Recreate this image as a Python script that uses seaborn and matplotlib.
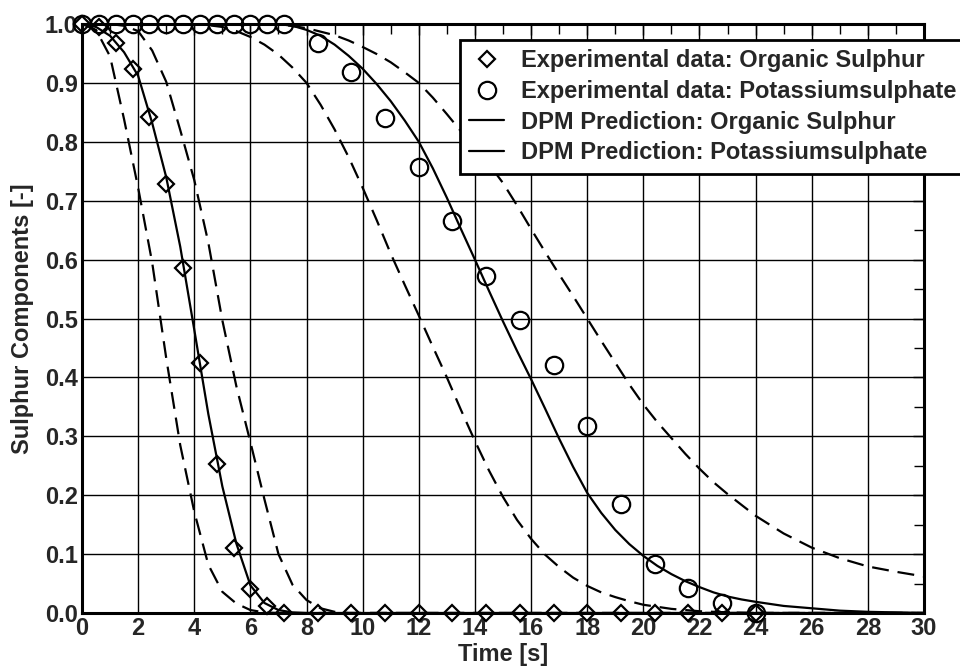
import matplotlib
matplotlib.use("Agg")
import matplotlib.pyplot as plt
from matplotlib.lines import Line2D
from matplotlib.ticker import MultipleLocator
import seaborn as sns
import pandas as pd

# ---- measured data -------------------------------------------------------
time_exp = [0.0, 0.6, 1.2, 1.8, 2.4, 3.0, 3.6, 4.2, 4.8, 5.4, 6.0, 6.6, 7.2,
            8.4, 9.6, 10.8, 12.0, 13.2, 14.4, 15.6, 16.8, 18.0, 19.2, 20.4,
            21.6, 22.8, 24.0]
organic_exp = [1.0, 0.995, 0.968, 0.924, 0.842, 0.728, 0.586, 0.424, 0.253,
               0.110, 0.041, 0.012, 0.0,
               0.0, 0.0, 0.0, 0.0, 0.0, 0.0, 0.0, 0.0, 0.0, 0.0, 0.0, 0.0,
               0.0, 0.0]
potassium_exp = [1.0, 1.0, 1.0, 1.0, 1.0, 1.0, 1.0, 1.0, 1.0, 1.0, 1.0, 1.0,
                 1.0,
                 0.967, 0.918, 0.841, 0.758, 0.665, 0.572, 0.497, 0.421,
                 0.318, 0.185, 0.084, 0.042, 0.017, 0.0]

# ---- DPM predictions: organic sulphur -----------------------------------
t_org = [0.0, 0.5, 1.0, 1.5, 2.0, 2.5, 3.0, 3.5, 4.0, 4.5, 5.0, 5.5, 6.0,
         6.5, 7.0, 7.5, 8.0, 30.0]
org_pred = [1.0, 0.995, 0.98, 0.952, 0.912, 0.832, 0.74, 0.622, 0.481,
            0.338, 0.215, 0.118, 0.047, 0.017, 0.005, 0.001, 0.0, 0.0]

t_org_fast = [0.0, 0.5, 1.0, 1.5, 2.0, 2.5, 3.0, 3.5, 4.0, 4.5, 5.0, 5.5,
              6.0, 6.5, 7.0, 30.0]
org_fast = [1.0, 0.99, 0.945, 0.838, 0.722, 0.595, 0.433, 0.285, 0.172,
            0.082, 0.036, 0.016, 0.005, 0.001, 0.0, 0.0]

t_org_slow = [0.0, 1.0, 1.5, 2.0, 2.5, 3.0, 3.5, 4.0, 4.5, 5.0, 5.5, 6.0,
              6.5, 7.0, 7.5, 8.0, 8.5, 9.0, 9.5, 30.0]
org_slow = [1.0, 1.0, 0.997, 0.988, 0.955, 0.902, 0.82, 0.735, 0.629, 0.497,
            0.385, 0.29, 0.193, 0.1, 0.048, 0.022, 0.008, 0.002, 0.0, 0.0]

# ---- DPM predictions: potassium sulphate --------------------------------
t_pot = [0.0, 7.0, 7.5, 8.0, 8.5, 9.0, 9.5, 10.0, 10.5, 11.0, 11.5, 12.0,
         12.5, 13.0, 13.5, 14.0, 14.5, 15.0, 15.5, 16.0, 16.5, 17.0, 17.5,
         18.0, 18.5, 19.0, 19.5, 20.0, 20.5, 21.0, 21.5, 22.0, 22.5, 23.0,
         23.5, 24.0, 25.0, 26.0, 27.0, 28.0, 29.0, 30.0]
pot_pred = [1.0, 1.0, 0.997, 0.99, 0.98, 0.965, 0.946, 0.924, 0.898, 0.869,
            0.836, 0.80, 0.755, 0.705, 0.652, 0.600, 0.547, 0.495, 0.445,
            0.397, 0.347, 0.296, 0.248, 0.204, 0.170, 0.141, 0.117, 0.097,
            0.080, 0.066, 0.054, 0.044, 0.035, 0.028, 0.023, 0.019, 0.012,
            0.008, 0.004, 0.002, 0.001, 0.0]

t_pot_fast = [0.0, 4.0, 4.5, 5.0, 5.5, 6.0, 6.5, 7.0, 7.5, 8.0, 8.5, 9.0,
              9.5, 10.0, 10.5, 11.0, 11.5, 12.0, 12.5, 13.0, 13.5, 14.0,
              14.5, 15.0, 15.5, 16.0, 16.5, 17.0, 17.5, 18.0, 18.5, 19.0,
              19.5, 20.0, 21.0, 22.0, 23.0, 24.0, 30.0]
pot_fast = [1.0, 1.0, 0.998, 0.995, 0.988, 0.978, 0.965, 0.948, 0.926, 0.90,
            0.863, 0.821, 0.774, 0.722, 0.667, 0.61, 0.557, 0.505, 0.452,
            0.40, 0.345, 0.292, 0.242, 0.197, 0.158, 0.126, 0.099, 0.078,
            0.06, 0.046, 0.035, 0.027, 0.02, 0.014, 0.007, 0.003, 0.001,
            0.0, 0.0]

t_pot_slow = [0.0, 7.0, 8.0, 9.0, 9.5, 10.0, 10.5, 11.0, 11.5, 12.0, 12.5,
              13.0, 13.5, 14.0, 14.5, 15.0, 15.5, 16.0, 16.5, 17.0, 17.5,
              18.0, 18.5, 19.0, 19.5, 20.0, 20.5, 21.0, 21.5, 22.0, 22.5,
              23.0, 24.0, 25.0, 26.0, 27.0, 28.0, 29.0, 30.0]
pot_slow = [1.0, 1.0, 0.993, 0.981, 0.972, 0.961, 0.949, 0.935, 0.918, 0.90,
            0.875, 0.847, 0.818, 0.79, 0.762, 0.73, 0.692, 0.652, 0.613,
            0.575, 0.538, 0.50, 0.462, 0.425, 0.388, 0.354, 0.324, 0.297,
            0.27, 0.245, 0.222, 0.202, 0.165, 0.135, 0.111, 0.093, 0.079,
            0.07, 0.062]

x_ticks = list(range(0, 31, 2))
y_ticks = [0.0, 0.1, 0.2, 0.3, 0.4, 0.5, 0.6, 0.7, 0.8, 0.9, 1.0]

legend_labels = ["Experimental data: Organic Sulphur",
                 "Experimental data: Potassiumsulphate",
                 "DPM Prediction: Organic Sulphur",
                 "DPM Prediction: Potassiumsulphate"]

# ---- styling -------------------------------------------------------------
sns.set_theme(style="white")
plt.rcParams["font.family"] = ["Liberation Sans", "DejaVu Sans"]
plt.rcParams["font.weight"] = "bold"
plt.rcParams["axes.labelweight"] = "bold"
plt.rcParams["lines.scale_dashes"] = True

FS = 17
LW = 1.6
DASH_STYLE = (0, (7.6, 4.0))

fig = plt.figure(figsize=(9.6, 6.67), dpi=100)
ax = fig.add_axes([82 / 960, 54 / 667, (924 - 82) / 960, (613 - 24) / 667])


def curve(t, y, dashed=False):
    df = pd.DataFrame({"t": t, "y": y})
    sns.lineplot(data=df, x="t", y="y", color="black", linewidth=LW,
                 estimator=None, sort=False, legend=False, ax=ax, zorder=3)
    line = ax.lines[-1]
    line.set_solid_capstyle("butt")
    if dashed:
        line.set_linestyle(DASH_STYLE)
        line.set_dash_capstyle("butt")


curve(t_org_fast, org_fast, dashed=True)
curve(t_org_slow, org_slow, dashed=True)
curve(t_pot_fast, pot_fast, dashed=True)
curve(t_pot_slow, pot_slow, dashed=True)
curve(t_org, org_pred)
curve(t_pot, pot_pred)


def points(y, marker, size):
    df = pd.DataFrame({"t": time_exp, "y": y})
    sns.lineplot(data=df, x="t", y="y", estimator=None, sort=False,
                 legend=False, ax=ax, linestyle="none", marker=marker,
                 markersize=size, markerfacecolor="none",
                 markeredgecolor="black", markeredgewidth=1.6,
                 color="black", clip_on=False, zorder=5)


points(organic_exp, "D", 8.2)
points(potassium_exp, "o", 12.5)

ax.set_xlim(0, 30)
ax.set_ylim(0, 1.0)
ax.set_xticks(x_ticks)
ax.set_yticks(y_ticks)
ax.set_xticklabels([str(v) for v in x_ticks])
ax.set_yticklabels([f"{v:.1f}" for v in y_ticks])
ax.xaxis.set_minor_locator(MultipleLocator(1))
ax.yaxis.set_minor_locator(MultipleLocator(0.05))

ax.grid(True, which="major", color="black", linewidth=1.0, zorder=0)
ax.set_axisbelow(True)
ax.tick_params(which="both", direction="in", top=True, right=True,
               color="black", width=1.0)
ax.tick_params(which="major", length=8, labelsize=FS, pad=3)
ax.tick_params(which="minor", length=7)
for lab in ax.get_xticklabels() + ax.get_yticklabels():
    lab.set_fontweight("bold")

for sp in ax.spines.values():
    sp.set_visible(True)
    sp.set_color("black")
    sp.set_linewidth(2.2)
    sp.set_zorder(4)

ax.set_xlabel("Time [s]", fontsize=FS, fontweight="bold", labelpad=2)
ax.set_ylabel("Sulphur Components [-]", fontsize=FS, fontweight="bold",
              labelpad=8)

handles = [
    Line2D([], [], linestyle="none", marker="D", markersize=8.2,
           markerfacecolor="none", markeredgecolor="black",
           markeredgewidth=1.6),
    Line2D([], [], linestyle="none", marker="o", markersize=12.5,
           markerfacecolor="none", markeredgecolor="black",
           markeredgewidth=1.6),
    Line2D([], [], color="black", linewidth=LW),
    Line2D([], [], color="black", linewidth=LW),
]
leg = fig.legend(handles, legend_labels, loc="upper left",
                 bbox_to_anchor=(460 / 960, 1 - 40 / 667),
                 prop={"size": FS, "weight": "bold"},
                 frameon=True, fancybox=False, framealpha=1.0,
                 edgecolor="black", borderpad=0.4, labelspacing=0.32,
                 handlelength=1.45, handletextpad=0.75, borderaxespad=0)
leg.get_frame().set_linewidth(2.0)

fig.savefig("out.png", dpi=100)
